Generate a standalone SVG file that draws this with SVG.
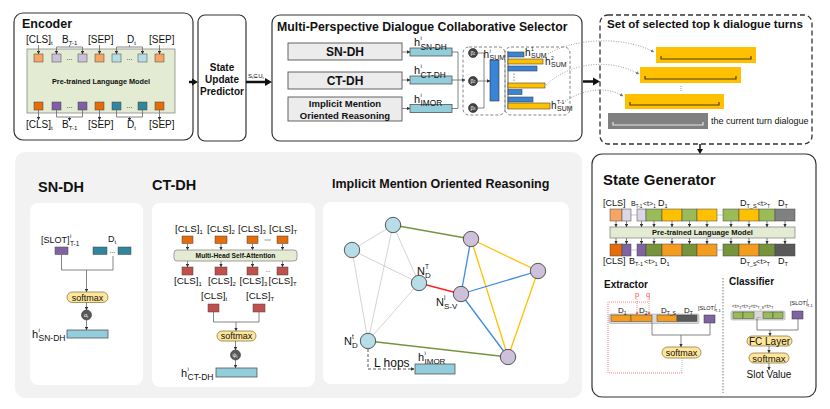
<svg xmlns="http://www.w3.org/2000/svg" width="830" height="409" viewBox="0 0 830 409">
<style>
text{font-family:"Liberation Sans",Arial,Helvetica,sans-serif;fill:#111}
.b{font-weight:bold}
.box{fill:#fff;stroke:#333;stroke-width:1.2}
.ln{fill:none;stroke:#666;stroke-width:0.8}
.ar{marker-end:url(#a)}
.tk{stroke:#444;stroke-width:0.5}
.teal{fill:#92cddc;stroke:#555;stroke-width:0.8}
.sm{fill:#ffe699;stroke:#8c7b4b;stroke-width:0.8}
.lm{fill:#e3ebd2;stroke:#8a8a8a;stroke-width:0.8}
.wb{fill:#fff;stroke:none}
.dot{fill:none;stroke:#888;stroke-width:0.8;stroke-dasharray:1 1.5}
.red{fill:none;stroke:#ff4d4d;stroke-width:0.7;stroke-dasharray:1 1}
</style>
<defs>
<marker id="a" viewBox="0 0 6 6" refX="5.5" refY="3" markerWidth="3.5" markerHeight="3.5" markerUnits="userSpaceOnUse" orient="auto"><path d="M0,0 L6,3 L0,6z" fill="#333"/></marker>
<marker id="r" viewBox="0 0 6 6" refX="5.5" refY="3" markerWidth="3" markerHeight="3" markerUnits="userSpaceOnUse" orient="auto"><path d="M0,0 L6,3 L0,6z" fill="#ff4d4d"/></marker>
<marker id="g" viewBox="0 0 6 6" refX="5.5" refY="3" markerWidth="3.5" markerHeight="3.5" markerUnits="userSpaceOnUse" orient="auto"><path d="M0,0 L6,3 L0,6z" fill="#777"/></marker>
</defs>
<rect width="830" height="409" fill="#fff"/>

<!-- Background panel -->
<rect x="15" y="152" width="567" height="246" rx="10" fill="#f2f2f2"/>

<!-- Encoder -->
<g id="encoder">
<rect x="14" y="13" width="179" height="127" rx="9" class="box"/>
<text x="22" y="28" class="b" font-size="12.5">Encoder</text>
<rect x="27" y="49" width="148" height="64" class="lm"/>
<text x="101" y="84" text-anchor="middle" class="b" font-size="7.3">Pre-trained Language Model</text>
<g class="tk">
<rect x="34" y="54" width="9" height="8" fill="#f7a564"/>
<rect x="52" y="54" width="9" height="8" fill="#ccc1da"/>
<rect x="78" y="54" width="9" height="8" fill="#ccc1da"/>
<rect x="95" y="54" width="9" height="8" fill="#f7a564"/>
<rect x="112" y="54" width="9" height="8" fill="#b7dee8"/>
<rect x="138" y="54" width="9" height="8" fill="#b7dee8"/>
<rect x="155" y="54" width="9" height="8" fill="#f7a564"/>
<rect x="34" y="102" width="9" height="8" fill="#e46c0a"/>
<rect x="52" y="102" width="9" height="8" fill="#7f5fa8"/>
<rect x="78" y="102" width="9" height="8" fill="#7f5fa8"/>
<rect x="95" y="102" width="9" height="8" fill="#e46c0a"/>
<rect x="112" y="102" width="9" height="8" fill="#31859c"/>
<rect x="138" y="102" width="9" height="8" fill="#31859c"/>
<rect x="155" y="102" width="9" height="8" fill="#e46c0a"/>
</g>
<text x="69.5" y="60" text-anchor="middle" font-size="7">...</text>
<text x="129.5" y="60" text-anchor="middle" font-size="7">...</text>
<text x="69.5" y="108" text-anchor="middle" font-size="7">...</text>
<text x="129.5" y="108" text-anchor="middle" font-size="7">...</text>
<text x="26" y="43" font-size="10">[CLS]<tspan font-size="6" dy="2">t</tspan></text>
<text x="62" y="43" font-size="10">B<tspan font-size="6" dy="2">T-1</tspan></text>
<text x="88" y="43" font-size="10">[SEP]</text>
<text x="127" y="43" font-size="10">D<tspan font-size="6" dy="2">t</tspan></text>
<text x="149" y="43" font-size="10">[SEP]</text>
<text x="26" y="128" font-size="10">[CLS]<tspan font-size="6" dy="2">t</tspan></text>
<text x="62" y="128" font-size="10">B<tspan font-size="6" dy="2">T-1</tspan></text>
<text x="88" y="128" font-size="10">[SEP]</text>
<text x="127" y="128" font-size="10">D<tspan font-size="6" dy="2">t</tspan></text>
<text x="149" y="128" font-size="10">[SEP]</text>
<g class="ln" stroke="#333">
<path class="ar" d="M38.5,45 V54"/>
<path d="M56.5,47 H82.5 M69.5,45 V47"/>
<path class="ar" d="M56.5,47 V54"/><path class="ar" d="M82.5,47 V54"/>
<path class="ar" d="M99.5,45 V54"/>
<path d="M116.5,47 H142.5 M129.5,45 V47"/>
<path class="ar" d="M116.5,47 V54"/><path class="ar" d="M142.5,47 V54"/>
<path class="ar" d="M159.5,45 V54"/>
<path class="ar" d="M38.5,110 V120"/>
<path d="M56.5,110 V117 H82.5 V110"/>
<path class="ar" d="M69.5,117 V121"/>
<path class="ar" d="M99.5,110 V120"/>
<path d="M116.5,110 V117 H142.5 V110"/>
<path class="ar" d="M129.5,117 V121"/>
<path class="ar" d="M159.5,110 V120"/>
</g>
</g>

<!-- State Update Predictor -->
<g id="sup">
<rect x="198" y="15" width="48" height="126" rx="7" class="box"/>
<text x="222" y="71" text-anchor="middle" class="b" font-size="10">State</text>
<text x="222" y="83" text-anchor="middle" class="b" font-size="10">Update</text>
<text x="222" y="95" text-anchor="middle" class="b" font-size="10">Predictor</text>
</g>

<!-- Selector -->
<g id="selector">
<rect x="272" y="15" width="310" height="126" rx="8" class="box"/>
<text x="277" y="31" class="b" font-size="12.3">Multi-Perspective Dialogue Collaborative Selector</text>
<g fill="#ececec" stroke="#555" stroke-width="0.9">
<rect x="288" y="43" width="114" height="17"/>
<rect x="288" y="72" width="114" height="17"/>
<rect x="288" y="97" width="114" height="24"/>
</g>
<text x="345" y="56" text-anchor="middle" class="b" font-size="12">SN-DH</text>
<text x="345" y="85" text-anchor="middle" class="b" font-size="12">CT-DH</text>
<text x="345" y="107" text-anchor="middle" class="b" font-size="9.5">Implicit Mention</text>
<text x="345" y="118.5" text-anchor="middle" class="b" font-size="9.5">Oriented Reasoning</text>
<g class="ln" stroke="#333">
<path class="ar" d="M402,52 H410"/>
<path class="ar" d="M402,80 H410"/>
<path class="ar" d="M402,108.5 H410"/>
<path d="M452,52 H458 M452,80 H458 M452,108.5 H458 M458,52 V108.5"/>
<path class="ar" d="M458,80 H465"/>
</g>
<rect x="410" y="48" width="42" height="8" class="teal"/>
<rect x="410" y="76" width="42" height="8" class="teal"/>
<rect x="410" y="104.5" width="42" height="8" class="teal"/>
<text x="414" y="46" font-size="11">h</text><text x="420.5" y="40" font-size="6">i</text><text x="420.5" y="49.5" font-size="8.3">SN-DH</text>
<text x="414" y="74" font-size="11">h</text><text x="420.5" y="68" font-size="6">i</text><text x="420.5" y="77.5" font-size="8.3">CT-DH</text>
<text x="414" y="102.5" font-size="11">h</text><text x="420.5" y="96.5" font-size="6">i</text><text x="420.5" y="106" font-size="8.3">IMOR</text>
<rect x="463" y="47" width="42" height="68" rx="6" fill="none" stroke="#666" stroke-width="0.8" stroke-dasharray="3 2"/>
<rect x="505" y="47" width="65" height="68" rx="6" fill="none" stroke="#666" stroke-width="0.8" stroke-dasharray="3 2"/>
<g class="ln" stroke="#333">
<path d="M477.5,53 H484 M477.5,108 H484 M484,53 V108"/>
<path class="ar" d="M477.5,81 H490"/>
</g>
<g fill="#444" stroke="#222" stroke-width="0.6">
<circle cx="473" cy="53" r="4.5"/><circle cx="473" cy="81" r="4.5"/><circle cx="473" cy="108" r="4.5"/>
</g>
<text x="473" y="55" text-anchor="middle" font-size="5.5" style="fill:#fff">β<tspan font-size="3.5">1</tspan></text>
<text x="473" y="83" text-anchor="middle" font-size="5.5" style="fill:#fff">β<tspan font-size="3.5">2</tspan></text>
<text x="473" y="110" text-anchor="middle" font-size="5.5" style="fill:#fff">β<tspan font-size="3.5">3</tspan></text>
<rect x="490" y="60" width="9" height="41" fill="#3a84d6" stroke="#333" stroke-width="0.6"/>
<text x="483.5" y="58" font-size="10">h</text><text x="489.5" y="52.5" font-size="5.5">i</text><text x="489.5" y="60" font-size="7">SUM</text>
<path d="M508,51 V109" stroke="#333" stroke-width="0.8"/>
<g stroke="#444" stroke-width="0.6">
<rect x="508" y="52" width="16" height="5" fill="#3a84d6"/>
<rect x="508" y="59" width="35" height="5" fill="#ffc000"/>
<rect x="508" y="66" width="29" height="5" fill="#3a84d6"/>
<rect x="508" y="83" width="37" height="5" fill="#ffc000"/>
<rect x="508" y="89.5" width="14" height="5" fill="#3a84d6"/>
<rect x="508" y="97" width="25" height="5" fill="#3a84d6"/>
<rect x="508" y="103" width="42" height="6" fill="#ffc000"/>
</g>
<g fill="#333"><circle cx="514" cy="74" r="0.6"/><circle cx="514" cy="77" r="0.6"/><circle cx="514" cy="80" r="0.6"/></g>
<text x="525" y="56" font-size="10">h</text><text x="531" y="50.5" font-size="5">1</text><text x="531" y="58" font-size="7">SUM</text>
<text x="545" y="65" font-size="10">h</text><text x="551" y="59.5" font-size="5">2</text><text x="551" y="67" font-size="7">SUM</text>
<text x="551" y="109" font-size="10">h</text><text x="557" y="103.5" font-size="5">T-1</text><text x="557" y="111" font-size="7">SUM</text>
</g>

<!-- Set of selected turns -->
<g id="selected-set">
<rect x="600" y="15" width="212" height="129" rx="8" fill="none" stroke="#333" stroke-width="1.3" stroke-dasharray="5 3"/>
<text x="607" y="28" class="b" font-size="11.6">Set of selected top k dialogue turns</text>
<rect x="656" y="47" width="100" height="16" fill="#ffc000"/>
<rect x="640" y="67" width="101" height="16" fill="#ffc000"/>
<rect x="625" y="94" width="99" height="15" fill="#ffc000"/>
<rect x="608" y="113" width="100" height="16" fill="#808080"/>
<g fill="none" stroke="#4d3a00" stroke-width="1.2">
<path d="M661,56 V59 H751 V56"/>
<path d="M645,76 V79 H736 V76"/>
<path d="M630,102 V105 H719 V102"/>
</g>
<path d="M613,122 V125 H703 V122" fill="none" stroke="#e6e6e6" stroke-width="1.2"/>
<path d="M681,86 V92" stroke="#999" stroke-width="1" stroke-dasharray="1 1"/>
<text x="711" y="124" font-size="9">the current turn dialogue</text>
</g>

<!-- State Generator -->
<g id="state-generator">
<rect x="592" y="154" width="224" height="243" rx="10" class="box"/>
<text x="603" y="185" class="b" font-size="15">State Generator</text>
<text x="603" y="206" font-size="9">[CLS]</text>
<text x="631" y="206" font-size="7">B<tspan font-size="4.5" dy="1.5">T-1</tspan></text>
<text x="643" y="206" font-size="7">&lt;t&gt;<tspan font-size="4.5" dy="1.5">1</tspan></text>
<text x="658" y="206" font-size="9">D<tspan font-size="5.5" dy="1.5">1</tspan></text>
<text x="740" y="206" font-size="9">D<tspan font-size="5.5" dy="1.5">T_S</tspan></text>
<text x="757" y="206" font-size="7">&lt;t&gt;<tspan font-size="4.5" dy="1.5">T</tspan></text>
<text x="778" y="206" font-size="9">D<tspan font-size="5.5" dy="1.5">T</tspan></text>
<g class="tk">
<rect x="610" y="209" width="12" height="12" fill="#f7a564"/>
<rect x="622" y="209" width="9" height="12" fill="#dcd6e6"/>
<rect x="637" y="209" width="9" height="12" fill="#dcd6e6"/>
<rect x="646" y="209" width="16" height="12" fill="#9bbb59"/>
<rect x="662" y="209" width="20" height="12" fill="#ffc000"/>
<rect x="682" y="209" width="15" height="12" fill="#9bbb59"/>
<rect x="697" y="209" width="20" height="12" fill="#ffc000"/>
<rect x="723" y="209" width="16" height="12" fill="#9bbb59"/>
<rect x="739" y="209" width="20" height="12" fill="#ffc000"/>
<rect x="759" y="209" width="16" height="12" fill="#9bbb59"/>
<rect x="775" y="209" width="20" height="12" fill="#808080"/>
<rect x="610" y="244" width="12" height="12" fill="#e46c0a"/>
<rect x="622" y="244" width="9" height="12" fill="#8064a2"/>
<rect x="637" y="244" width="9" height="12" fill="#8064a2"/>
<rect x="646" y="244" width="16" height="12" fill="#77933c"/>
<rect x="662" y="244" width="20" height="12" fill="#f39c1f"/>
<rect x="682" y="244" width="15" height="12" fill="#77933c"/>
<rect x="697" y="244" width="20" height="12" fill="#f39c1f"/>
<rect x="723" y="244" width="16" height="12" fill="#77933c"/>
<rect x="739" y="244" width="20" height="12" fill="#f39c1f"/>
<rect x="759" y="244" width="16" height="12" fill="#77933c"/>
<rect x="775" y="244" width="20" height="12" fill="#595959"/>
</g>
<path d="M631.5,215 H636.5 M717.5,215 H722.5 M631.5,250 H636.5 M717.5,250 H722.5" stroke="#777" stroke-width="0.8" stroke-dasharray="1 1"/>
<rect x="610" y="227" width="185" height="11" class="lm"/>
<text x="702.5" y="235.3" text-anchor="middle" class="b" font-size="7.5">Pre-trained Language Model</text>
<g class="ln" stroke="#333" stroke-width="0.6">
<path class="ar" d="M616,221 V227"/><path class="ar" d="M626.5,221 V227"/><path class="ar" d="M641.5,221 V227"/><path class="ar" d="M654,221 V227"/><path class="ar" d="M672,221 V227"/><path class="ar" d="M689.5,221 V227"/><path class="ar" d="M707,221 V227"/><path class="ar" d="M731,221 V227"/><path class="ar" d="M749,221 V227"/><path class="ar" d="M767,221 V227"/><path class="ar" d="M785,221 V227"/>
<path class="ar" d="M616,238 V244"/><path class="ar" d="M626.5,238 V244"/><path class="ar" d="M641.5,238 V244"/><path class="ar" d="M654,238 V244"/><path class="ar" d="M672,238 V244"/><path class="ar" d="M689.5,238 V244"/><path class="ar" d="M707,238 V244"/><path class="ar" d="M731,238 V244"/><path class="ar" d="M749,238 V244"/><path class="ar" d="M767,238 V244"/><path class="ar" d="M785,238 V244"/>
</g>
<text x="603" y="264" font-size="9">[CLS]</text>
<text x="629" y="264" font-size="9">B<tspan font-size="5.5" dy="1.5">T-1</tspan></text>
<text x="644" y="264" font-size="7.5">&lt;t&gt;<tspan font-size="5" dy="1.5">1</tspan></text>
<text x="660" y="264" font-size="9">D<tspan font-size="5.5" dy="1.5">1</tspan></text>
<text x="740" y="264" font-size="9">D<tspan font-size="5.5" dy="1.5">T_S</tspan></text>
<text x="756" y="264" font-size="7.5">&lt;t&gt;<tspan font-size="5" dy="1.5">T</tspan></text>
<text x="778" y="264" font-size="9">D<tspan font-size="5.5" dy="1.5">T</tspan></text>
<path d="M723,278 V393" stroke="#555" stroke-width="0.8" stroke-dasharray="1.5 1.5"/>
</g>

<!-- Extractor -->
<g id="extractor">
<text x="604" y="288" class="b" font-size="10">Extractor</text>
<rect x="609" y="314" width="90" height="9.5" rx="1.5" fill="#d9d9d9" stroke="#999" stroke-width="0.5"/>
<g class="tk">
<rect x="611" y="315" width="20" height="6.5" fill="#f39c1f"/>
<rect x="631" y="315" width="21" height="6.5" fill="#f39c1f"/>
<rect x="657" y="315" width="20" height="6.5" fill="#f39c1f"/>
<rect x="677" y="315" width="20" height="6.5" fill="#595959"/>
</g>
<text x="618" y="313" font-size="8">D<tspan font-size="5" dy="1.5">1</tspan></text>
<text x="639" y="313" font-size="8">D<tspan font-size="5" dy="1.5">2</tspan></text>
<text x="661" y="313" font-size="8">D<tspan font-size="5" dy="1.5">T_S</tspan></text>
<text x="684" y="313" font-size="8">D<tspan font-size="5" dy="1.5">T</tspan></text>
<text x="637" y="297" text-anchor="middle" font-size="7.5" style="fill:#ff4d4d">p</text>
<text x="648" y="297" text-anchor="middle" font-size="7.5" style="fill:#ff4d4d">q</text>
<path class="red" d="M682,373 H608 V302 H649"/>
<path class="red" d="M637,299 V315" marker-end="url(#r)"/>
<path class="red" d="M649,299 V315" marker-end="url(#r)"/>
<rect x="704" y="315" width="11" height="8" fill="#8064a2" stroke="#333" stroke-width="0.5"/>
<text x="698" y="310" font-size="5.5">[SLOT]</text><text x="715" y="306" font-size="4">i</text><text x="715" y="311.5" font-size="4">T-1</text>
<path class="ln" d="M652,322 V335 H710 V323"/>
<path class="ln ar" d="M681,335 V347"/>
<rect x="662" y="347" width="39" height="11" rx="5.5" class="sm"/>
<text x="681.5" y="355.8" text-anchor="middle" font-size="9">softmax</text>
<path d="M682,358 V373" stroke="#aaa" stroke-width="0.8" stroke-dasharray="1 1"/>
</g>

<!-- Classifier -->
<g id="classifier">
<text x="729" y="285" class="b" font-size="10">Classifier</text>
<rect x="731" y="311" width="54" height="9" rx="1.5" fill="#d9d9d9" stroke="#999" stroke-width="0.5"/>
<g class="tk">
<rect x="733" y="312" width="10" height="6.5" fill="#9bbb59"/>
<rect x="743" y="312" width="11" height="6.5" fill="#9bbb59"/>
<rect x="763" y="312" width="10" height="6.5" fill="#9bbb59"/>
<rect x="773" y="312" width="10" height="6.5" fill="#9bbb59"/>
</g>
<text x="758.5" y="318" text-anchor="middle" font-size="5">...</text>
<text x="732" y="308" font-size="5">&lt;t&gt;<tspan font-size="3.5" dy="1">1</tspan><tspan dy="-1">&lt;t&gt;</tspan><tspan font-size="3.5" dy="1">2</tspan><tspan dy="-1">&lt;t&gt;</tspan><tspan font-size="3.5" dy="1">T_S</tspan><tspan dy="-1">&lt;t&gt;</tspan><tspan font-size="3.5" dy="1">T</tspan></text>
<rect x="792" y="311" width="11" height="8" fill="#8064a2" stroke="#333" stroke-width="0.5"/>
<text x="790" y="305" font-size="5.5">[SLOT]</text><text x="807" y="301" font-size="4">i</text><text x="807" y="306.5" font-size="4">T-1</text>
<path class="ln" d="M757,318.5 V330 H798 V319"/>
<path class="ln ar" d="M770,330 V336"/>
<rect x="747" y="336" width="45" height="10" rx="5" class="sm"/>
<text x="769.5" y="344.5" text-anchor="middle" font-size="10">FC Layer</text>
<path class="ln ar" d="M769,346 V353"/>
<rect x="749" y="353" width="40" height="10" rx="5" class="sm"/>
<text x="769" y="361.5" text-anchor="middle" font-size="9.5">softmax</text>
<path class="ln ar" d="M769,363 V370"/>
<text x="769" y="378" text-anchor="middle" font-size="10">Slot Value</text>
</g>

<!-- SN-DH -->
<g id="sn-dh">
<text x="38" y="192" class="b" font-size="14.5">SN-DH</text>
<rect x="30" y="203" width="113" height="182" rx="8" class="wb"/>
<text x="41" y="243" font-size="9">[SLOT]</text><text x="70" y="238" font-size="6">i</text><text x="70" y="246" font-size="6.5">T-1</text>
<text x="108" y="242" font-size="9">D<tspan font-size="6" dy="2">t</tspan></text>
<rect x="55" y="247" width="13" height="7.5" fill="#8064a2" class="tk"/>
<rect x="93" y="247" width="14" height="7.5" fill="#31859c" class="tk"/>
<rect x="118" y="247" width="13" height="7.5" fill="#31859c" class="tk"/>
<text x="112.5" y="253" text-anchor="middle" font-size="7">...</text>
<path class="ln" d="M61.5,254.5 V270 H113 V256"/>
<path class="ln ar" d="M86.5,270 V292"/>
<rect x="67" y="292" width="41" height="10.5" rx="5.25" class="sm"/>
<text x="87.5" y="300.5" text-anchor="middle" font-size="9">softmax</text>
<path class="ln ar" d="M86.5,302.5 V310"/>
<circle cx="86.5" cy="315" r="5" fill="#595959" stroke="#333" stroke-width="0.6"/>
<text x="86" y="317" text-anchor="middle" font-size="5.5" style="fill:#fff">α<tspan font-size="3.5" dy="1">t</tspan></text>
<path class="ln ar" d="M86.5,320 V330"/>
<rect x="67" y="330" width="41" height="8" class="teal"/>
<text x="32" y="338" font-size="11">h</text><text x="38.5" y="332" font-size="6">i</text><text x="38.5" y="340.5" font-size="8.5">SN-DH</text>
</g>

<!-- CT-DH -->
<g id="ct-dh">
<text x="152" y="190" class="b" font-size="14.5">CT-DH</text>
<rect x="152" y="203" width="163" height="184" rx="8" class="wb"/>
<text x="175" y="232" font-size="9.8">[CLS]<tspan font-size="6" dy="2">1</tspan></text>
<text x="207" y="232" font-size="9.8">[CLS]<tspan font-size="6" dy="2">2</tspan></text>
<text x="238" y="232" font-size="9.8">[CLS]<tspan font-size="6" dy="2">3</tspan></text>
<text x="269" y="232" font-size="9.8">[CLS]<tspan font-size="6" dy="2">T</tspan></text>
<g class="tk" fill="#e46c0a">
<rect x="182" y="236" width="11" height="7.5"/><rect x="215" y="236" width="12" height="7.5"/><rect x="247" y="236" width="11" height="7.5"/><rect x="277" y="236" width="11" height="7.5"/>
</g>
<path d="M264.5,240 H271" stroke="#999" stroke-width="1"/>
<g class="ln" stroke="#333" stroke-width="0.6">
<path class="ar" d="M187.5,243.5 V250"/><path class="ar" d="M221,243.5 V250"/><path class="ar" d="M252.5,243.5 V250"/><path class="ar" d="M282.5,243.5 V250"/>
<path class="ar" d="M187.5,261 V267"/><path class="ar" d="M221,261 V267"/><path class="ar" d="M252.5,261 V267"/><path class="ar" d="M282.5,261 V267"/>
</g>
<rect x="174" y="250" width="123" height="11" rx="3" class="lm"/>
<text x="235.5" y="258" text-anchor="middle" class="b" font-size="6.7">Multi-Head Self-Attention</text>
<g class="tk" fill="#c0504d">
<rect x="182" y="267" width="11" height="8"/><rect x="215" y="267" width="12" height="8"/><rect x="247" y="267" width="11" height="8"/><rect x="277" y="267" width="11" height="8"/>
</g>
<text x="268" y="272" text-anchor="middle" font-size="6">...</text>
<text x="174" y="284" font-size="9.8">[CLS]<tspan font-size="6" dy="2">1</tspan></text>
<text x="208" y="284" font-size="9.8">[CLS]<tspan font-size="6" dy="2">2</tspan></text>
<text x="239.5" y="284" font-size="9.8">[CLS]<tspan font-size="6" dy="2">3</tspan></text>
<text x="268.5" y="284" font-size="9.8">[CLS]<tspan font-size="6" dy="2">T</tspan></text>
<text x="201" y="299" font-size="9.8">[CLS]<tspan font-size="6" dy="2">t</tspan></text>
<text x="246" y="299" font-size="9.8">[CLS]<tspan font-size="6" dy="2">T</tspan></text>
<rect x="208" y="304" width="11" height="8" fill="#c0504d" class="tk"/>
<rect x="253" y="304" width="12" height="8" fill="#c0504d" class="tk"/>
<path class="ln" d="M213.5,312 V322 H259 V312"/>
<path class="ln ar" d="M236,322 V331"/>
<rect x="217" y="331" width="39" height="10" rx="5" class="sm"/>
<text x="236.5" y="339.3" text-anchor="middle" font-size="9">softmax</text>
<path class="ln ar" d="M235.5,341 V350"/>
<circle cx="235.5" cy="355" r="5" fill="#595959" stroke="#333" stroke-width="0.6"/>
<text x="235" y="357" text-anchor="middle" font-size="5.5" style="fill:#fff">ψ<tspan font-size="3.5" dy="1">t</tspan></text>
<path class="ln ar" d="M235.5,360 V368"/>
<rect x="216" y="368" width="41" height="9" class="teal"/>
<text x="181" y="377" font-size="11">h</text><text x="187.5" y="371" font-size="6">i</text><text x="187.5" y="380" font-size="8.5">CT-DH</text>
</g>

<!-- IMOR -->
<g id="imor">
<text x="332" y="188" class="b" font-size="12.5">Implicit Mention Oriented Reasoning</text>
<rect x="323" y="202" width="246" height="182" rx="8" class="wb"/>
<g stroke="#c8c8c8" stroke-width="0.8">
<line x1="393" y1="225" x2="352" y2="250"/><line x1="393" y1="225" x2="419" y2="283"/><line x1="393" y1="225" x2="368" y2="341"/>
<line x1="352" y1="250" x2="419" y2="283"/><line x1="352" y1="250" x2="368" y2="341"/><line x1="419" y1="283" x2="368" y2="341"/>
</g>
<g stroke="#77933c" stroke-width="1.3"><line x1="393" y1="225" x2="471" y2="239"/><line x1="368" y1="341" x2="508" y2="357"/></g>
<line x1="419" y1="283" x2="461" y2="294" stroke="#ff2020" stroke-width="1.4"/>
<g stroke="#ffc000" stroke-width="1.3"><line x1="471" y1="239" x2="538" y2="271"/><line x1="471" y1="239" x2="508" y2="357"/><line x1="538" y1="271" x2="508" y2="357"/></g>
<g stroke="#3c8dde" stroke-width="1.3"><line x1="471" y1="239" x2="461" y2="294"/><line x1="461" y1="294" x2="538" y2="271"/><line x1="461" y1="294" x2="508" y2="357"/></g>
<g stroke="#333" stroke-width="0.8">
<circle cx="393" cy="225" r="7.7" fill="#b7dee8"/><circle cx="352" cy="250" r="7.7" fill="#b7dee8"/><circle cx="419" cy="283" r="7.7" fill="#b7dee8"/><circle cx="368" cy="341" r="7.7" fill="#b7dee8"/>
<circle cx="471" cy="239" r="7.7" fill="#ccc0da"/><circle cx="538" cy="271" r="7.7" fill="#ccc0da"/><circle cx="461" cy="294" r="7.7" fill="#ccc0da"/><circle cx="508" cy="357" r="7.7" fill="#ccc0da"/>
</g>
<text x="417" y="275" font-size="11">N</text><text x="425" y="268.5" font-size="6.5">T</text><text x="425" y="277.5" font-size="8">D</text>
<text x="436" y="306" font-size="11">N</text><text x="444" y="299.5" font-size="6.5">i</text><text x="444" y="308.5" font-size="8">S-V</text>
<text x="344" y="345" font-size="11">N</text><text x="352" y="338.5" font-size="6.5">t</text><text x="352" y="347.5" font-size="8">D</text>
<path d="M368,349 V369 H414" fill="none" stroke="#555" stroke-width="1" stroke-dasharray="3 2" marker-end="url(#a)"/>
<text x="374" y="367" font-size="12">L hops</text>
<rect x="415" y="364" width="40" height="10" class="teal"/>
<text x="418" y="361" font-size="11">h</text><text x="424.5" y="355" font-size="6">i</text><text x="424.5" y="364" font-size="8">IMOR</text>
</g>

<!-- Connectors -->
<g id="connectors">
<line x1="189" y1="82" x2="193" y2="82" stroke="#111" stroke-width="2.5"/>
<polygon points="192,78.5 198,82 192,85.5" fill="#111"/>
<line x1="246" y1="82" x2="266" y2="82" stroke="#111" stroke-width="2.5"/>
<polygon points="265,78 272,82 265,86" fill="#111"/>
<text x="248" y="78" font-size="6">S<tspan font-size="4" dy="1">t</tspan><tspan dy="-1">⊆U</tspan><tspan font-size="4" dy="1">t</tspan></text>
<line x1="583" y1="81.5" x2="594" y2="81.5" stroke="#111" stroke-width="2.5"/>
<polygon points="593,77.5 600,81.5 593,85.5" fill="#111"/>
<line x1="700" y1="144" x2="700" y2="150" stroke="#111" stroke-width="1.5"/>
<polygon points="697,149 700,154 703,149" fill="#111"/>
<path class="dot" d="M548,54 C570,40 620,34 654,52" marker-end="url(#g)"/>
<path class="dot" d="M546,85 C570,62 610,58 639,74" marker-end="url(#g)"/>
<path class="dot" d="M563,103 C580,90 605,85 623,96" marker-end="url(#g)"/>
</g>
</svg>
